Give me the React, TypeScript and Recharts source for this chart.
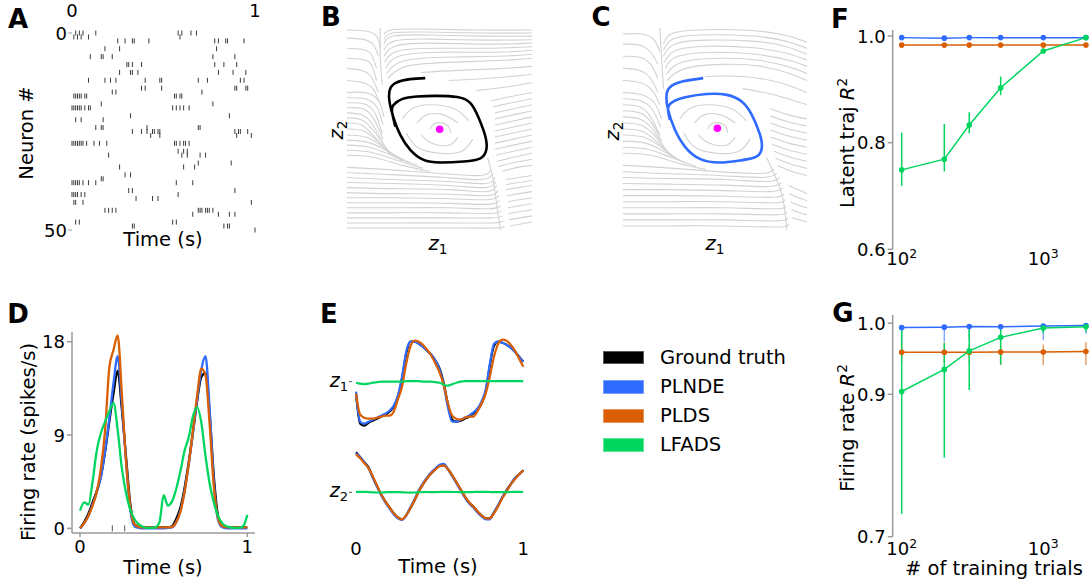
import React from 'react';
import { ComposedChart, ScatterChart, Scatter, Line, XAxis, YAxis, ErrorBar } from 'recharts';

const W = 1091;
const H = 581;
const FONT = '"DejaVu Sans", Verdana, sans-serif';
const SPINE = '#9a9a9a';
const STREAM = '#d2d2d2';

const seriesNames = ['Ground truth', 'PLNDE', 'PLDS', 'LFADS'];
const seriesColors = ['#000000', '#2f6bff', '#d95f02', '#00d65f'];

// --- A: spike raster, [neuron, spike times (s)]
const spikeRows: [number, number[]][] = [
  [0, [0.02, 0.04, 0.06, 0.13, 0.58, 0.6, 0.65, 0.68]],
  [1, [0.01, 0.03, 0.05, 0.09, 0.59]],
  [2, [0.25, 0.29, 0.33, 0.34, 0.42, 0.78, 0.8, 0.84, 0.85, 0.94]],
  [4, [0.18, 0.26, 0.79]],
  [6, [0.1, 0.16, 0.17, 0.22, 0.77, 0.89]],
  [8, [0.3, 0.31, 0.33, 0.38, 0.78, 0.83, 0.9]],
  [10, [0.26, 0.32, 0.33, 0.36, 0.8, 0.88, 0.95]],
  [12, [0.09, 0.18, 0.21, 0.24, 0.4, 0.48, 0.49, 0.69, 0.74, 0.92, 0.94]],
  [14, [0.38, 0.4, 0.49, 0.89, 0.9, 0.95, 0.96]],
  [15, [0.22, 0.24, 0.71]],
  [16, [0.01, 0.02, 0.03, 0.04, 0.05, 0.07, 0.08, 0.56, 0.57, 0.59, 0.6]],
  [18, [0.16, 0.77]],
  [19, [0.0, 0.01, 0.02, 0.03, 0.04, 0.05, 0.07, 0.09, 0.1, 0.55, 0.57, 0.59, 0.61, 0.64]],
  [21, [0.32, 0.86]],
  [22, [0.02, 0.05, 0.17]],
  [24, [0.13, 0.16, 0.17, 0.41, 0.69, 0.7]],
  [25, [0.33, 0.38, 0.41, 0.44, 0.45, 0.47, 0.48, 0.89, 0.91, 0.92, 0.96]],
  [26, [0.43, 0.48, 0.9, 0.98]],
  [28, [0.0, 0.01, 0.02, 0.03, 0.04, 0.05, 0.06, 0.08, 0.12, 0.15, 0.19, 0.56, 0.57, 0.59, 0.61, 0.62, 0.64]],
  [30, [0.58, 0.61, 0.63]],
  [31, [0.2, 0.6, 0.63, 0.7, 0.73]],
  [33, [0.69, 0.87]],
  [34, [0.26, 0.61, 0.67]],
  [36, [0.29, 0.32]],
  [37, [0.16, 0.17]],
  [38, [0.0, 0.01, 0.02, 0.03, 0.04, 0.06, 0.09, 0.13, 0.57, 0.66]],
  [40, [0.31, 0.33, 0.89]],
  [41, [0.0, 0.01, 0.02, 0.03, 0.05, 0.07, 0.58]],
  [42, [0.35, 0.44, 0.47]],
  [43, [0.01, 0.02, 0.06, 0.98]],
  [45, [0.18, 0.2, 0.22, 0.24, 0.69, 0.7, 0.71, 0.73, 0.74, 0.75, 0.77]],
  [46, [0.66, 0.8, 0.86, 0.89]],
  [48, [0.02, 0.04, 0.55, 0.57]],
  [49, [0.33, 0.34, 0.83, 0.85, 0.86]],
  [50, [1.0]],
];

// --- B / C: hand-traced streamlines in a 0..100 box (y down)
const streamsB: [number, number][][] = [
  [[0, 1], [10, 1.5], [16, 4], [18, 10]],
  [[0, 5], [8, 5.5], [14, 8], [17, 14]],
  [[0, 10], [8, 10.5], [13, 13], [16, 20]],
  [[0, 15], [8, 15.5], [13, 18], [16, 26]],
  [[0, 20], [8, 21], [13, 24], [17, 32]],
  [[0, 26], [8, 27], [14, 30], [18, 38]],
  [[18, 0], [18, 14], [19, 28]],
  [[20, 3], [24, 1], [40, 0.5], [70, 1], [100, 1]],
  [[20, 5.5], [24.5, 2.5], [42, 2], [72, 2.5], [100, 2.5]],
  [[20, 8], [25, 4], [45, 3.5], [75, 4], [100, 4]],
  [[20, 11], [25.5, 6.5], [45, 5.5], [75, 6], [100, 5.8]],
  [[20, 14], [26, 9], [45, 7.5], [75, 8], [100, 7.5]],
  [[20.5, 17], [27, 11.5], [48, 10], [78, 10], [100, 9.3]],
  [[21, 20], [28, 14], [50, 12], [80, 12], [100, 11]],
  [[21.5, 22.5], [30, 16.5], [52, 14.5], [82, 14], [100, 13]],
  [[22, 25], [32, 19], [55, 17], [85, 16], [100, 15]],
  [[40, 22], [60, 21], [85, 20], [100, 19]],
  [[55, 26], [75, 25], [100, 23]],
  [[70, 31], [88, 29], [100, 27]],
  [[0, 32], [10, 32], [17, 36], [20, 44]],
  [[0, 34.5], [9.5, 35], [16, 39], [19.5, 48]],
  [[0, 37], [9, 37.5], [15, 42], [19, 52]],
  [[0, 39.5], [8.5, 40], [14.5, 45], [19.5, 55]],
  [[0, 42], [8, 43], [14, 48], [20, 58]],
  [[0, 44.5], [8, 45.5], [14.5, 51], [22, 60.5]],
  [[0, 47], [8, 48], [15, 54], [24, 63]],
  [[0, 50], [9, 51], [16.5, 56], [27, 64.5]],
  [[0, 53], [10, 54], [18, 58], [30, 66]],
  [[0, 55.5], [11, 56.5], [21, 60.5], [34, 67]],
  [[0, 58], [12, 59], [24, 63], [38, 68]],
  [[0, 60.5], [13, 61.5], [27, 65.5], [41, 69.5]],
  [[0, 63], [14, 64], [30, 68], [45, 71]],
  [[78, 36], [88, 34], [100, 32]],
  [[79, 39], [89, 37], [100, 35]],
  [[80, 42], [90, 40], [100, 38]],
  [[80, 45], [90, 43], [100, 41]],
  [[80, 48], [90, 46], [100, 44]],
  [[80, 51], [90, 49], [100, 47]],
  [[80, 54], [90, 52], [100, 50]],
  [[80, 57], [90, 55], [100, 53]],
  [[80, 60], [90, 58], [100, 56]],
  [[80.5, 63], [90, 61], [100, 59]],
  [[81, 66], [90, 64], [100, 62]],
  [[82, 68.5], [91, 66.5], [100, 65]],
  [[84, 71], [92, 69], [100, 68]],
  [[0, 69], [20, 70], [50, 72], [72, 73], [78, 70]],
  [[0, 71.5], [22, 72.5], [52, 74], [73, 75], [79, 72]],
  [[0, 74], [25, 75], [55, 76], [75, 77], [80, 74]],
  [[0, 76.5], [25, 77], [55, 78], [75, 79], [80.5, 76]],
  [[0, 79], [25, 79.5], [55, 80], [75, 81], [81, 78]],
  [[0, 81.5], [25, 82], [55, 82.3], [76, 83], [81.5, 80.5]],
  [[0, 84], [25, 84], [55, 84.5], [76, 85], [82, 83]],
  [[0, 86.5], [25, 86.5], [55, 86.8], [76.5, 87.3], [82.5, 85.5]],
  [[0, 89], [25, 89], [55, 89], [77, 89.5], [83, 88]],
  [[0, 91.5], [25, 91.5], [55, 91.5], [77.5, 91.8], [83.5, 90.5]],
  [[0, 94], [25, 94], [55, 94], [78, 94], [84, 93]],
  [[0, 96.5], [25, 96.5], [55, 96.5], [79, 96.5], [84.5, 95.5]],
  [[0, 99], [25, 99], [55, 99], [80, 99], [85, 98]],
  [[76, 64], [79, 75], [81, 88], [83, 100]],
  [[86, 75], [93, 74], [100, 73]],
  [[86, 77.5], [93, 76.5], [100, 75.5]],
  [[86, 80], [93, 79], [100, 78]],
  [[86.5, 83], [93, 82], [100, 81]],
  [[87, 86], [93, 85], [100, 84]],
  [[87, 89], [93, 88], [100, 87]],
  [[87, 92], [93, 91], [100, 90]],
  [[87.5, 95], [93.5, 94], [100, 93]],
  [[88, 98], [94, 97], [100, 96]],
  [[30, 45], [35, 40], [45, 38], [58, 40], [66, 46]],
  [[68, 55], [62, 61], [50, 62], [38, 59], [32, 52]],
  [[38, 47], [43, 43], [52, 43], [60, 47]],
  [[60, 54], [55, 58], [46, 57], [40, 53]],
  [[45, 50], [48, 47], [54, 48], [56, 52]],
];

const streamsC: [number, number][][] = [
  [[0, 3], [10, 3], [17, 6], [20, 12]],
  [[0, 8], [9, 8.5], [15, 12], [19, 18]],
  [[0, 14], [9, 14.5], [15, 18], [19, 25]],
  [[0, 20], [9, 21], [15, 25], [19, 32]],
  [[0, 26], [9, 27], [16, 31], [20, 38]],
  [[20, 0], [21, 15], [22, 30]],
  [[22, 8], [26, 3], [40, 1], [65, 1], [85, 3], [100, 7]],
  [[22, 11], [27, 5.5], [42, 3.5], [68, 3.8], [86, 6], [100, 10]],
  [[22, 14], [28, 8], [45, 6], [70, 6.5], [88, 9], [100, 13]],
  [[22.5, 17], [29, 11], [47, 9], [71, 9.8], [89, 12.5], [100, 16]],
  [[23, 20], [30, 14], [50, 12], [72, 13], [90, 16], [100, 19]],
  [[23.5, 23], [32, 17], [52, 15], [74, 16], [91, 19.5], [100, 22.5]],
  [[24, 26], [34, 20], [55, 18], [75, 19], [92, 23], [100, 26]],
  [[45, 24], [65, 24], [85, 27], [100, 32]],
  [[65, 30], [82, 33], [100, 38]],
  [[0, 32], [10, 33], [17, 37], [21, 45]],
  [[0, 35], [9.5, 36], [16, 40.5], [20.5, 49]],
  [[0, 38], [9, 39], [15, 44], [20, 53]],
  [[0, 41], [9, 42], [15.5, 47], [21, 56]],
  [[0, 44], [9, 45], [16, 50], [22, 59]],
  [[0, 47], [9.5, 48], [17, 53], [24.5, 61.5]],
  [[0, 50], [10, 51], [18, 56], [27, 64]],
  [[0, 53], [11, 54], [20, 58.5], [30.5, 65.5]],
  [[0, 56], [12, 57], [22, 61], [34, 67]],
  [[0, 59], [13.5, 60], [26, 64], [39.5, 68.5]],
  [[0, 62], [15, 63], [30, 67], [45, 70]],
  [[80, 40], [90, 43], [100, 45]],
  [[80, 43.5], [90, 46.5], [100, 48.5]],
  [[80, 47], [90, 50], [100, 52]],
  [[80, 50.5], [90, 53.5], [100, 55.5]],
  [[80, 54], [90, 57], [100, 59]],
  [[81, 57.5], [90.5, 60.5], [100, 62.5]],
  [[82, 61], [91, 64], [100, 66]],
  [[83, 64.5], [91.5, 67.5], [100, 69.5]],
  [[84, 68], [92, 71], [100, 73]],
  [[0, 68], [20, 69], [50, 71], [75, 72], [82, 70]],
  [[0, 71], [22, 72], [52, 73], [76, 74], [83.5, 72]],
  [[0, 74], [25, 74.5], [55, 75], [78, 76], [85, 74]],
  [[0, 77], [25, 77.3], [55, 77.8], [79, 78.5], [86, 76.5]],
  [[0, 80], [25, 80], [55, 80.5], [80, 81], [87, 79]],
  [[0, 83], [25, 83], [55, 83.3], [81, 83.8], [87.5, 82]],
  [[0, 86], [25, 86], [55, 86], [82, 86.5], [88, 85]],
  [[0, 89], [25, 89], [55, 89], [82.5, 89.5], [88.5, 88]],
  [[0, 92], [25, 92], [55, 92], [83, 92.5], [89, 91]],
  [[0, 95], [25, 95], [55, 95], [83.5, 95.5], [89.5, 94]],
  [[0, 98], [25, 98], [55, 98], [84, 98.5], [90, 97]],
  [[78, 64], [83, 74], [87, 85], [89, 100]],
  [[90, 78], [95, 80], [100, 82]],
  [[90.5, 82], [95.5, 84], [100, 85.5]],
  [[91, 86], [96, 88], [100, 89]],
  [[91.5, 90], [96, 91.5], [100, 92.5]],
  [[92, 94], [96, 95], [100, 96]],
  [[31, 45], [36, 40], [46, 38], [59, 40], [67, 46]],
  [[69, 55], [63, 61], [51, 62], [39, 59], [33, 52]],
  [[39, 47], [44, 43], [53, 43], [61, 47]],
  [[61, 54], [56, 58], [47, 57], [41, 53]],
  [[46, 50], [49, 47], [55, 48], [57, 52]],
];

const trajB: [number, number][] = [
  [42.3, 24.8], [34.2, 25.3], [26.1, 27.3], [22.9, 31.4], [23.1, 37.2], [25.2, 44.6], [28.8, 52.9],
  [34.2, 60.3], [41.4, 65.3], [50.5, 66.6], [63.1, 66.1], [72.1, 64.5], [75.3, 60.3], [74.8, 53.7],
  [71.2, 44.6], [66.7, 37.2], [59.5, 34.2], [48.6, 33.6], [37.8, 33.9], [29.7, 35.2], [25.2, 38.0],
  [24.3, 41.3], [26.1, 48.8],
];
const trajC: [number, number][] = [
  [43.6, 24.8], [32.7, 26.4], [25.5, 29.3], [23.6, 33.9], [24.5, 40.5], [28.2, 50.4], [33.6, 58.7],
  [41.8, 64.8], [52.7, 66.6], [63.6, 65.6], [72.7, 63.6], [75.5, 58.7], [74.2, 52.1], [70, 43],
  [64.5, 36.4], [56.4, 33.1], [45.5, 32.7], [34.5, 34.2], [27.3, 36.4], [24.5, 39.7], [25.5, 45.5],
];
const fixedB: [number, number] = [50.1, 50.1];
const fixedC: [number, number] = [51.3, 49.6];

// --- D: firing rates (spikes/s)
const timeGrid = [0, 0.025, 0.05, 0.075, 0.1, 0.125, 0.15, 0.175, 0.2, 0.225, 0.25, 0.275, 0.3, 0.325, 0.35, 0.375, 0.4, 0.425, 0.45, 0.475, 0.5, 0.525, 0.55, 0.575, 0.6, 0.625, 0.65, 0.675, 0.7, 0.725, 0.75, 0.775, 0.8, 0.825, 0.85, 0.875, 0.9, 0.925, 0.95, 0.975, 1];
const rateTruth = [0, 0.6, 1.4, 2.5, 3.6, 5.0, 7.4, 10.3, 13.0, 15.2, 11.5, 6.9, 2.4, 0.4, 0.15, 0.1, 0.1, 0.1, 0.1, 0.1, 0.1, 0.1, 0.2, 0.9, 2.0, 3.9, 6.4, 9.3, 12.3, 14.6, 15.0, 11.0, 5.0, 1.2, 0.2, 0.1, 0.1, 0.1, 0.1, 0.1, 0.1];
const ratePlnde = [0, 0.5, 1.2, 2.3, 3.5, 5.0, 7.5, 10.6, 14.0, 16.6, 12.0, 6.5, 1.8, 0.2, 0.05, 0, 0, 0, 0, 0, 0, 0.05, 0.1, 0.6, 1.7, 3.6, 6.2, 9.2, 12.4, 15.3, 16.6, 11.5, 4.5, 0.8, 0.1, 0, 0, 0, 0, 0, 0];
const ratePlds = [0, 0.5, 1.2, 2.2, 3.5, 5.8, 9.5, 15.5, 17.2, 18.6, 13.0, 6.5, 2.1, 0.4, 0.15, 0.1, 0.1, 0.1, 0.1, 0.1, 0.1, 0.1, 0.15, 0.6, 1.6, 3.5, 6.2, 9.4, 12.8, 15.4, 14.8, 10.0, 4.0, 1.0, 0.2, 0.1, 0.1, 0.1, 0.1, 0.1, 0.1];
const rateLfads = [1.7, 2.5, 2.3, 4.5, 7.5, 9.2, 10.3, 11.3, 12.1, 9.5, 5.8, 3.4, 1.8, 0.9, 0.4, 0.15, 0.05, 0.05, 0.1, 0.6, 3.2, 2.2, 2.6, 3.8, 5.5, 7.5, 8.8, 10.8, 11.7, 10.2, 7.0, 4.3, 2.5, 1.2, 0.5, 0.2, 0.1, 0.05, 0.05, 0.2, 1.3];
const neuronSpikes = [0.193, 0.267];

// --- E: latents (arbitrary units)
const z1Truth = [-1.2, -4.2, -4.4, -4.1, -3.9, -3.7, -3.5, -3.3, -3.0, -2.5, -1.5, 0.3, 2.8, 4.0, 4.0, 3.8, 3.5, 3.1, 2.7, 2.1, 1.3, -0.2, -2.3, -3.8, -4.0, -3.9, -3.7, -3.5, -3.2, -2.8, -2.2, -1.0, 1.6, 3.6, 4.0, 3.9, 3.7, 3.4, 3.0, 2.5, 2.0];
const z1Plnde = [-1.0, -4.0, -4.2, -4.0, -3.8, -3.6, -3.4, -3.2, -2.9, -2.4, -1.4, 0.5, 3.0, 4.0, 4.0, 3.8, 3.5, 3.1, 2.7, 2.1, 1.2, -0.4, -2.6, -4.0, -4.0, -3.8, -3.6, -3.4, -3.1, -2.7, -2.0, -0.8, 1.8, 3.8, 4.0, 3.9, 3.7, 3.4, 3.0, 2.5, 2.0];
const z1Plds = [-1.2, -3.3, -3.6, -3.7, -3.7, -3.6, -3.5, -3.4, -3.4, -3.0, -1.8, -0.5, 1.8, 3.5, 4.1, 4.0, 3.7, 3.2, 2.6, 1.8, 0.9, -0.4, -2.2, -3.4, -3.7, -3.8, -3.6, -3.5, -3.5, -3.0, -2.2, -1.2, 0.5, 2.5, 3.8, 4.2, 4.1, 3.7, 3.1, 2.3, 1.5];
const z1Lfads = [-0.1, -0.2, -0.25, -0.2, -0.1, -0.05, 0, 0, 0, 0, 0, 0, 0.05, 0.05, 0.05, 0.05, 0, 0, 0, -0.05, -0.1, -0.3, -0.4, -0.25, -0.1, 0, 0.05, 0.05, 0.05, 0.05, 0.05, 0.05, 0.05, 0.05, 0.05, 0.05, 0.05, 0.05, 0.05, 0.05, 0.05];
const z2Truth = [4.0, 3.5, 3.0, 2.5, 1.5, 0.6, -0.2, -0.9, -1.5, -2.1, -2.5, -2.7, -2.3, -1.6, -0.8, 0.1, 0.8, 1.4, 1.9, 2.3, 2.65, 2.7, 2.3, 1.7, 1.0, 0.3, -0.4, -1.0, -1.4, -1.9, -2.3, -2.6, -2.6, -2.0, -1.3, -0.5, 0.2, 0.8, 1.4, 1.8, 2.2];
const z2Plnde = [3.9, 3.5, 3.0, 2.4, 1.5, 0.6, -0.3, -1.0, -1.6, -2.2, -2.6, -2.75, -2.3, -1.5, -0.7, 0.2, 0.9, 1.5, 2.0, 2.4, 2.75, 2.85, 2.3, 1.6, 0.9, 0.2, -0.5, -1.1, -1.5, -2.0, -2.4, -2.7, -2.7, -2.0, -1.3, -0.5, 0.2, 0.8, 1.4, 1.8, 2.2];
const z2Plds = [3.8, 3.4, 2.9, 2.4, 1.6, 0.7, -0.2, -0.9, -1.5, -2.1, -2.5, -2.7, -2.3, -1.6, -0.8, 0.1, 0.8, 1.4, 1.9, 2.3, 2.6, 2.7, 2.3, 1.7, 1.0, 0.3, -0.4, -1.0, -1.4, -1.9, -2.3, -2.6, -2.6, -2.1, -1.4, -0.6, 0.1, 0.8, 1.3, 1.8, 2.2];
const z2Lfads = [0.05, 0.05, 0.05, 0.02, 0, -0.02, -0.02, 0, 0.02, 0.02, 0.02, 0, -0.02, -0.03, -0.02, 0, 0.02, 0.03, 0.02, 0.02, 0.03, 0.05, 0.04, 0.03, 0.03, 0.02, 0.02, 0.02, 0.03, 0.04, 0.04, 0.04, 0.03, 0.02, 0.02, 0.02, 0.02, 0.03, 0.04, 0.04, 0.03];

// --- F / G: R^2 vs number of training trials
const trials = [100, 200, 300, 500, 1000, 2000];
const latentPlnde = [0.997, 0.996, 0.997, 0.997, 0.997, 0.997];
const latentPlds = [0.983, 0.983, 0.983, 0.983, 0.983, 0.983];
const latentLfads = [0.749, 0.769, 0.833, 0.903, 0.972, 0.997];
const latentLfadsLo = [0.719, 0.746, 0.817, 0.889, 0.968, 0.995];
const latentLfadsHi = [0.819, 0.835, 0.857, 0.924, 0.976, 0.999];

const ratePlndeR2 = [0.9939, 0.9943, 0.9953, 0.995, 0.996, 0.9967];
const ratePlndeLo = [0.972, 0.974, 0.978, 0.988, 0.976, 0.985];
const ratePlndeHi = [0.9945, 0.995, 0.996, 0.996, 0.997, 0.998];
const ratePldsR2 = [0.959, 0.959, 0.959, 0.9595, 0.9595, 0.96];
const ratePldsLo = [0.946, 0.944, 0.945, 0.941, 0.941, 0.941];
const ratePldsHi = [0.972, 0.973, 0.97, 0.967, 0.97, 0.973];
const rateLfadsR2 = [0.904, 0.935, 0.961, 0.98, 0.993, 0.995];
const rateLfadsLo = [0.732, 0.811, 0.906, 0.942, 0.986, 0.988];
const rateLfadsHi = [0.993, 0.972, 0.995, 0.9915, 0.997, 0.998];

// plot rect -> margin; axes are 1px wide (a 0px axis is not drawn)
const frame = (l: number, t: number, r: number, b: number, xTop = false) => ({
  left: l - 1, top: xTop ? t - 1 : t, right: W - r, bottom: xTop ? H - b : H - b - 1,
});
const bare = (l: number, t: number, r: number, b: number) => ({ left: l, top: t, right: W - r, bottom: H - b });
const err = (v: number[], lo: number[], hi: number[], i: number) => [v[i] - lo[i], hi[i] - v[i]];

const rasterPts = spikeRows.flatMap(([n, ts]) => ts.map((t) => ({ t, n })));
const rateRows = timeGrid.map((t, i) => ({ t, truth: rateTruth[i], plnde: ratePlnde[i], plds: ratePlds[i], lfads: rateLfads[i] }));
const z1Rows = timeGrid.map((t, i) => ({ t, truth: z1Truth[i], plnde: z1Plnde[i], plds: z1Plds[i], lfads: z1Lfads[i] }));
const z2Rows = timeGrid.map((t, i) => ({ t, truth: z2Truth[i], plnde: z2Plnde[i], plds: z2Plds[i], lfads: z2Lfads[i] }));
const fRows = trials.map((n, i) => ({
  n, plnde: latentPlnde[i], plds: latentPlds[i], lfads: latentLfads[i],
  lfadsErr: err(latentLfads, latentLfadsLo, latentLfadsHi, i),
}));
const gRows = trials.map((n, i) => ({
  n, plnde: ratePlndeR2[i], plds: ratePldsR2[i], lfads: rateLfadsR2[i],
  plndeErr: err(ratePlndeR2, ratePlndeLo, ratePlndeHi, i),
  pldsErr: err(ratePldsR2, ratePldsLo, ratePldsHi, i),
  lfadsErr: err(rateLfadsR2, rateLfadsLo, rateLfadsHi, i),
}));
const keys = ['truth', 'plnde', 'plds', 'lfads'];

// tick renderers
const leftTick = (fmt: (v: number) => string) => (p: any) => (
  <text x={p.x} y={p.y + 6.5} textAnchor="end" fontSize={18} fontFamily={FONT} fill="#000">{fmt(p.payload.value)}</text>
);
const flatTick = (dy: number) => (p: any) => (
  <text x={p.x} y={p.y + dy} textAnchor="middle" fontSize={18} fontFamily={FONT} fill="#000">{p.payload.value}</text>
);
const powTick = (dy: number) => (p: any) => (
  <text x={p.x} y={p.y + dy} textAnchor="middle" fontSize={18} fontFamily={FONT} fill="#000">
    10<tspan fontSize={12.5} dy={-7}>{Math.round(Math.log10(p.payload.value))}</tspan>
  </text>
);
const zTick = (sub: string) => (p: any) => (
  <text x={p.x - 1} y={p.y + 5} textAnchor="end" fontSize={19} fontFamily={FONT} fill="#000">
    <tspan fontStyle="italic">z</tspan><tspan fontSize={13} dy={4}>{sub}</tspan>
  </text>
);
const spikeMark = (half: number, color: string) => (p: any) => (
  <line x1={p.cx} x2={p.cx} y1={p.cy - half} y2={p.cy + half} stroke={color} strokeWidth={1} />
);

function Txt({ x, y, size = 19.5, rot = 0, bold = false, children }: any) {
  return (
    <div style={{
      position: 'absolute', left: x, top: y, transform: `translate(-50%, -50%) rotate(${rot}deg)`,
      fontSize: size, fontWeight: bold ? 700 : 400, whiteSpace: 'nowrap', lineHeight: 1, color: '#000',
    }}>{children}</div>
  );
}
const Layer = ({ children }: any) => <div style={{ position: 'absolute', left: 0, top: 0 }}>{children}</div>;
const Z = ({ s }: { s: string }) => (
  <span><i>z</i><sub style={{ fontSize: '0.7em', verticalAlign: '-0.3em', lineHeight: 0 }}>{s}</sub></span>
);
const R2 = () => (
  <span><i>R</i><sup style={{ fontSize: '0.7em', verticalAlign: '0.55em', lineHeight: 0 }}>2</sup></span>
);

function Phase({ streams, traj, fixed, color, m }: any) {
  return (
    <ComposedChart width={W} height={H} margin={m}>
      <XAxis type="number" dataKey="x" domain={[0, 100]} hide />
      <YAxis type="number" dataKey="y" domain={[0, 100]} reversed hide />
      {streams.map((s: [number, number][], i: number) => (
        <Line key={i} data={s.map(([x, y]) => ({ x, y }))} dataKey="y" type="natural" stroke={STREAM}
          strokeWidth={1.1} dot={false} isAnimationActive={false} />
      ))}
      <Line data={traj.map(([x, y]: number[]) => ({ x, y }))} dataKey="y" type="natural" stroke={color}
        strokeWidth={2.6} dot={false} isAnimationActive={false} />
      <Scatter data={[{ x: fixed[0], y: fixed[1] }]} dataKey="y" isAnimationActive={false}
        shape={(p: any) => <circle cx={p.cx} cy={p.cy} r={3.8} fill="#ff00ff" />} />
    </ComposedChart>
  );
}

function Latent({ rows, m, sub, showX }: any) {
  return (
    <ComposedChart width={W} height={H} margin={m} data={rows}>
      <XAxis type="number" dataKey="t" domain={[-0.024, 1.024]} allowDataOverflow ticks={[0, 1]} interval={0}
        height={1} axisLine={false} tickLine={false} tickSize={0} tick={showX ? flatTick(11) : false} />
      <YAxis type="number" domain={[-5, 5]} ticks={[0]} interval={0} width={1} axisLine={false}
        tickLine={{ stroke: '#555' }} tickSize={3} tickMargin={0} tick={zTick(sub)} />
      {keys.map((k, i) => (
        <Line key={k} dataKey={k} type="monotone" stroke={seriesColors[i]} strokeWidth={2.2} dot={false} isAnimationActive={false} />
      ))}
    </ComposedChart>
  );
}

function R2Chart({ rows, m, yDomain, yTicks, labelDy, withBands }: any) {
  return (
    <ComposedChart width={W} height={H} margin={m} data={rows}>
      <XAxis type="number" dataKey="n" scale="log" domain={[86.4, 2172.6]} allowDataOverflow ticks={[100, 1000]}
        interval={0} height={1} axisLine={false} tickLine={false} tickSize={0} tick={powTick(labelDy)} />
      <YAxis type="number" domain={yDomain} allowDataOverflow ticks={yTicks} interval={0} width={1}
        axisLine={{ stroke: SPINE, strokeWidth: 1.5 }} tickLine={{ stroke: SPINE, strokeWidth: 1.5 }}
        tickSize={5} tickMargin={2} tick={leftTick((v) => v.toFixed(1))} />
      {['plnde', 'plds', 'lfads'].map((k, j) => {
        const c = seriesColors[j + 1];
        const showErr = k === 'lfads' || withBands;
        return (
          <Line key={k} dataKey={k} type="linear" stroke={c} strokeWidth={1.5} isAnimationActive={false}
            dot={{ r: 2.8, fill: c, stroke: c, strokeWidth: 0 }} activeDot={false}>
            {showErr && (
              <ErrorBar dataKey={`${k}Err`} width={0} stroke={c} strokeWidth={1.5}
                strokeOpacity={k === 'lfads' ? 1 : 0.6} direction="y" />
            )}
          </Line>
        );
      })}
    </ComposedChart>
  );
}

export default function App() {
  const legendTops = [350.7, 380, 409, 438.3];
  return (
    <div style={{ position: 'absolute', left: 0, top: 0, width: W, height: H, overflow: 'hidden', background: '#fff', fontFamily: FONT }}>
      {/* A */}
      <Layer>
        <ScatterChart width={W} height={H} margin={frame(72, 33, 255, 230, true)}>
          <XAxis type="number" dataKey="t" orientation="top" domain={[0, 1]} ticks={[0, 1]} interval={0} height={1}
            axisLine={false} tickLine={false} tickSize={0} tick={flatTick(-14)} />
          <YAxis type="number" dataKey="n" domain={[0, 50]} reversed ticks={[0, 50]} interval={0} width={1}
            axisLine={false} tickLine={{ stroke: SPINE }} tickSize={4} tickMargin={1} tick={leftTick((v) => String(v))} />
          <Scatter data={rasterPts} isAnimationActive={false} shape={spikeMark(2.5, '#3a3a3a')} />
        </ScatterChart>
      </Layer>

      {/* B, C */}
      <Layer><Phase streams={streamsB} traj={trajB} fixed={fixedB} color={seriesColors[0]} m={bare(347, 28, 532, 230)} /></Layer>
      <Layer><Phase streams={streamsC} traj={trajC} fixed={fixedC} color={seriesColors[1]} m={bare(623, 28, 807, 230)} /></Layer>

      {/* D */}
      <Layer>
        <ComposedChart width={W} height={H} margin={frame(72, 332, 255, 533)} data={rateRows}>
          <XAxis type="number" dataKey="t" domain={[-0.048, 1.046]} allowDataOverflow ticks={[0, 1]} interval={0}
            height={1} axisLine={{ stroke: SPINE, strokeWidth: 1.5 }} tickLine={{ stroke: SPINE, strokeWidth: 1.5 }}
            tickSize={4} tickMargin={3} tick={flatTick(13)} />
          <YAxis type="number" domain={[-0.45, 18.94]} allowDataOverflow ticks={[0, 9, 18]} interval={0} width={1}
            axisLine={{ stroke: SPINE, strokeWidth: 1.5 }} tickLine={{ stroke: SPINE, strokeWidth: 1.5 }}
            tickSize={5} tickMargin={2} tick={leftTick((v) => String(v))} />
          {keys.map((k, i) => (
            <Line key={k} dataKey={k} type="monotone" stroke={seriesColors[i]} strokeWidth={2.3} dot={false} isAnimationActive={false} />
          ))}
          <Scatter data={neuronSpikes.map((t) => ({ t, y: 0 }))} dataKey="y" isAnimationActive={false} shape={spikeMark(3, '#555')} />
        </ComposedChart>
      </Layer>

      {/* E */}
      <Layer><Latent rows={z1Rows} m={frame(352, 331.7, 527.3, 431.7)} sub="1" showX={false} /></Layer>
      <Layer><Latent rows={z2Rows} m={frame(352, 442.3, 527.3, 542.3)} sub="2" showX /></Layer>

      {/* F, G */}
      <Layer><R2Chart rows={fRows} m={frame(892.7, 30, 1091, 249.3)} yDomain={[0.6, 1.0113]} yTicks={[0.6, 0.8, 1.0]} labelDy={13.5} withBands={false} /></Layer>
      <Layer><R2Chart rows={gRows} m={frame(892.7, 315, 1091, 536.7)} yDomain={[0.7, 1.0114]} yTicks={[0.7, 0.9, 1.0]} labelDy={16} withBands /></Layer>

      {/* legend */}
      {seriesNames.map((name, i) => (
        <React.Fragment key={name}>
          <div style={{ position: 'absolute', left: 603.3, top: legendTops[i], width: 41, height: 13.6, background: seriesColors[i], boxSizing: 'border-box', border: '1px solid rgba(255,255,255,0.35)' }} />
          <div style={{ position: 'absolute', left: 660, top: legendTops[i] + 6.8, transform: 'translateY(-50%)', fontSize: 19.5, lineHeight: 1, whiteSpace: 'nowrap' }}>{name}</div>
        </React.Fragment>
      ))}

      {/* panel letters */}
      <Txt x={18} y={19} size={26} bold>A</Txt>
      <Txt x={331} y={17} size={26} bold>B</Txt>
      <Txt x={601} y={17} size={26} bold>C</Txt>
      <Txt x={18} y={314} size={26} bold>D</Txt>
      <Txt x={329} y={314} size={26} bold>E</Txt>
      <Txt x={840} y={19} size={26} bold>F</Txt>
      <Txt x={843} y={313} size={26} bold>G</Txt>

      {/* axis titles */}
      <Txt x={27} y={133} rot={-90}>Neuron #</Txt>
      <Txt x={163} y={240}>Time (s)</Txt>
      <Txt x={337} y={130} rot={-90}><Z s="2" /></Txt>
      <Txt x={438} y={244}><Z s="1" /></Txt>
      <Txt x={613} y={131} rot={-90}><Z s="2" /></Txt>
      <Txt x={715} y={244}><Z s="1" /></Txt>
      <Txt x={28.5} y={442} rot={-90}>Firing rate (spikes/s)</Txt>
      <Txt x={163} y={568}>Time (s)</Txt>
      <Txt x={438} y={567}>Time (s)</Txt>
      <Txt x={848} y={143} rot={-90}>Latent traj <R2 /></Txt>
      <Txt x={847.5} y={428} rot={-90}>Firing rate <R2 /></Txt>
      <Txt x={994} y={569}># of training trials</Txt>
    </div>
  );
}
